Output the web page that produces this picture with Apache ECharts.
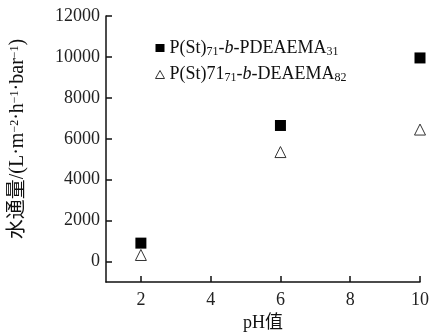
<!DOCTYPE html>
<html>
<head>
<meta charset="utf-8">
<script src="https://cdn.jsdelivr.net/npm/echarts@6/dist/echarts.min.js"></script>
<style>
    html, body { margin: 0; padding: 0; background: #fff; }
    #chart { width: 429px; height: 333px; }
</style>
</head>
<body>
<div id="chart"></div>
<script>
// pH values and water flux of the two membranes
const phValues = [2, 6, 10];
const fluxA = [900, 6650, 9950]; // P(St)71-b-PDEAEMA31
const fluxB = [320, 5350, 6450]; // P(St)71-b-DEAEMA82
const xTicks = [2, 4, 6, 8, 10];
const yTicks = [0, 2000, 4000, 6000, 8000, 10000, 12000];

const serif = '"Liberation Serif", "Times New Roman", serif';
const cjk = '"Liberation Serif", "Noto Sans CJK SC", serif';

const chart = echarts.init(document.getElementById('chart'));

const sub = { fontSize: 12, fontFamily: serif, color: '#111', verticalAlign: 'bottom', padding: [7, 0, 0, 0] };
const norm = { fontSize: 18, fontFamily: serif, color: '#111' };
const ital = { fontSize: 18, fontFamily: serif, color: '#111', fontStyle: 'italic' };
const sup = { fontSize: 12, fontFamily: serif, color: '#111', padding: [0, 0, 7, 0] };

const option = {
    animation: false,
    grid: { left: 106, right: 9, top: 16, bottom: 51, containLabel: false, outerBoundsMode: 'none' },
    legend: {
        orient: 'vertical',
        left: 150,
        top: 34,
        itemWidth: 9,
        itemHeight: 8,
        itemGap: 8,
        textStyle: { rich: { n: norm, s: sub, i: ital } },
        formatter: function (name) {
            if (name === 'A') return '{n|P(St)}{s|71}{n|-}{i|b}{n|-PDEAEMA}{s|31}';
            return '{n|P(St)71}{s|71}{n|-}{i|b}{n|-DEAEMA}{s|82}';
        },
        data: [
            { name: 'A', icon: 'rect', itemStyle: { color: '#000' } },
            { name: 'B', icon: 'triangle', itemStyle: { color: '#fff', borderColor: '#333', borderWidth: 1 } }
        ]
    },
    xAxis: {
        type: 'value',
        min: 1,
        max: 10,
        name: 'pH值',
        nameLocation: 'middle',
        nameGap: 32,
        nameTextStyle: { fontSize: 18, fontFamily: cjk, color: '#111' },
        axisLine: { show: true, onZero: false, lineStyle: { color: '#111', width: 1.5 } },
        axisTick: { show: true, inside: true, length: 6, customValues: xTicks, lineStyle: { color: '#111', width: 1.5 } },
        axisLabel: { customValues: xTicks, fontSize: 18, fontFamily: serif, color: '#222', margin: 9, formatter: v => String(v) },
        splitLine: { show: false }
    },
    yAxis: {
        type: 'value',
        min: -1000,
        max: 12000,
        name: '{c|水通量/(L·m}{p|−2}{c|·h}{p|−1}{c|·bar}{p|−1}{c|)}',
        nameLocation: 'middle',
        nameGap: 78,
        nameTextStyle: {
            padding: [0, 0, 0, 20],
            rich: {
                c: { fontSize: 20, fontFamily: cjk, color: '#111' },
                p: sup
            }
        },
        axisLine: { show: true, onZero: false, lineStyle: { color: '#111', width: 1.5 } },
        axisTick: { show: true, inside: true, length: 6, customValues: yTicks, lineStyle: { color: '#111', width: 1.5 } },
        axisLabel: { customValues: yTicks, fontSize: 18, fontFamily: serif, color: '#222', margin: 6, formatter: v => String(v) },
        splitLine: { show: false }
    },
    series: [
        {
            name: 'A',
            type: 'scatter',
            symbol: 'rect',
            symbolSize: 11,
            itemStyle: { color: '#000', opacity: 1 },
            data: phValues.map((x, i) => [x, fluxA[i]])
        },
        {
            name: 'B',
            type: 'scatter',
            symbol: 'triangle',
            symbolSize: 11,
            itemStyle: { color: '#fff', borderColor: '#333', borderWidth: 1, opacity: 1 },
            data: phValues.map((x, i) => [x, fluxB[i]])
        }
    ]
};

chart.setOption(option);
</script>
</body>
</html>
